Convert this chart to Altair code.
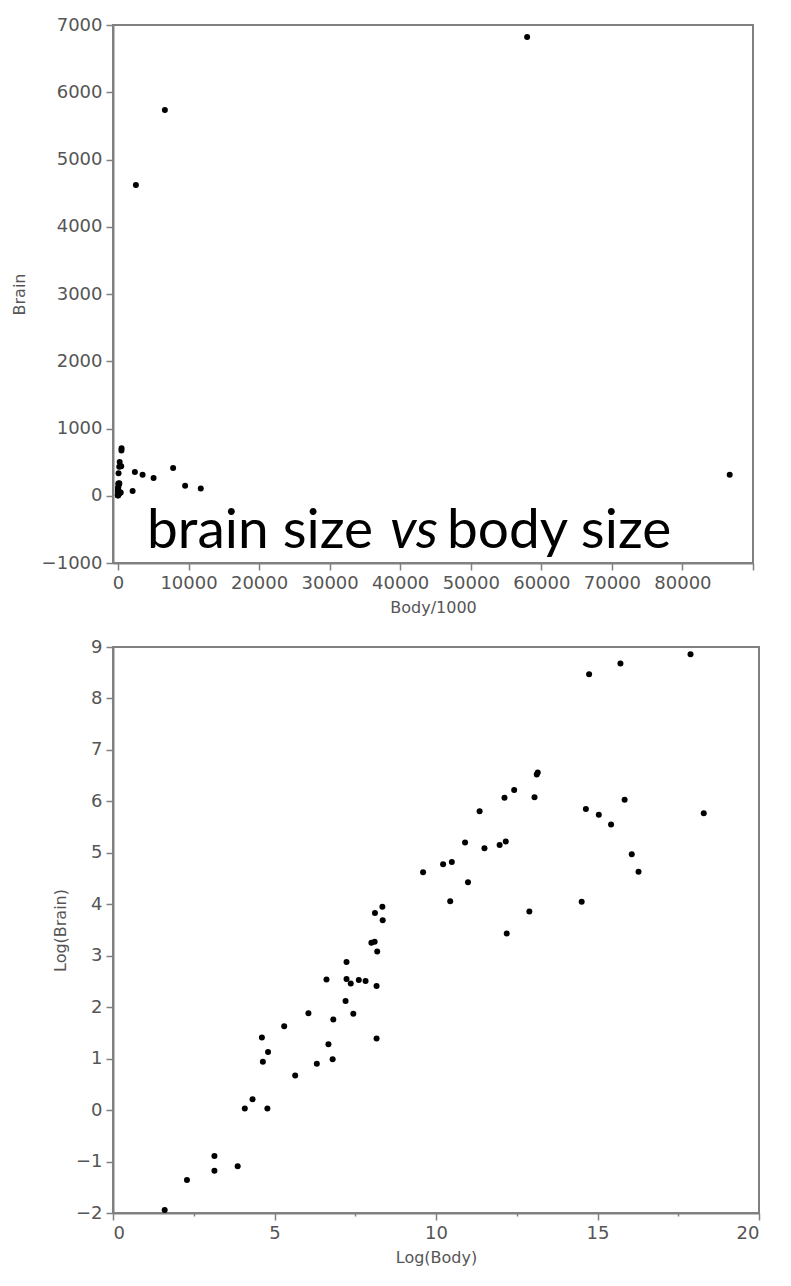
import altair as alt
import pandas as pd

# ---- top panel: Brain vs Body/1000 ----
body_kg = [57990, 6650, 2546, 86700, 7820, 9520, 11740, 5050, 3490, 2400, 2080,
           513, 498, 247, 465, 183, 85, 191, 158, 99, 54, 36, 27, 15, 59, 34, 396, 197,
           10, 6, 3, 1, 4, 2, 0.5, 8, 5]
brain_g = [6820, 5735, 4621, 312, 412, 149, 109, 263, 312, 352, 70,
           706, 673, 503, 437, 433, 334, 185, 172, 162, 181, 124, 119, 101, 84, 58, 47, 31,
           70, 45, 25, 8, 12, 6, 3, 17, 20]

# ---- bottom panel: Log(Brain) vs Log(Body) ----
log_body = [1.60, 2.29, 3.14, 3.14, 3.86, 4.08, 4.32, 4.78, 4.61, 4.80,
            4.64, 5.30, 5.64, 6.05, 6.31, 6.61, 6.67, 6.82, 6.80, 7.23,
            7.23, 7.36, 7.20, 7.44, 7.61, 7.82, 8.16, 8.16, 8.18, 8.34,
            8.11, 8.35, 8.00, 8.10, 9.60, 10.22, 10.49, 10.99, 10.44, 10.90,
            11.50, 11.35, 11.97, 12.16, 12.12, 12.42, 13.05, 12.89, 12.19, 13.12,
            13.15, 14.74, 15.71, 17.88, 14.64, 15.04, 15.42, 15.84, 18.29, 16.06,
            16.27, 14.51]
log_brain = [-1.94, -1.36, -0.89, -1.18, -1.09, 0.03, 0.21, 0.03, 1.41, 1.13,
             0.94, 1.63, 0.67, 1.88, 0.90, 2.54, 1.28, 1.76, 0.99, 2.88,
             2.55, 2.46, 2.12, 1.87, 2.53, 2.51, 2.41, 1.39, 3.08, 3.95,
             3.83, 3.69, 3.25, 3.27, 4.62, 4.78, 4.82, 4.43, 4.06, 5.20,
             5.09, 5.81, 5.15, 5.22, 6.07, 6.22, 6.08, 3.86, 3.43, 6.52,
             6.56, 8.47, 8.68, 8.86, 5.85, 5.74, 5.55, 6.03, 5.77, 4.97,
             4.63, 4.05]

top_x_ticks = [0, 10000, 20000, 30000, 40000, 50000, 60000, 70000, 80000, 90000]
top_y_ticks = [-1000, 0, 1000, 2000, 3000, 4000, 5000, 6000, 7000]
bot_x_ticks = [0, 2.5, 5, 7.5, 10, 12.5, 15, 17.5, 20]
bot_y_ticks = [-2, -1, 0, 1, 2, 3, 4, 5, 6, 7, 8, 9]

caption_parts = ["brain size", "vs", "body size"]

top_df = pd.DataFrame({"body": body_kg, "brain": brain_g})
bot_df = pd.DataFrame({"lbody": log_body, "lbrain": log_brain})

GRAY = "#808080"
LAB = "#555555"
axis_common = dict(domainColor=GRAY, domainWidth=2, tickColor=GRAY, tickWidth=1.5,
                   labelColor=LAB, labelFont="DejaVu Sans", labelFontSize=18,
                   titleFont="DejaVu Sans", titleFontSize=16, titleColor=LAB,
                   titleFontWeight="normal", grid=False)

top_points = alt.Chart(top_df).mark_circle(size=36, color="black", opacity=1).encode(
    x=alt.X("body:Q",
            scale=alt.Scale(domain=[-700, 90000], nice=False, zero=False),
            axis=alt.Axis(title="Body/1000", values=top_x_ticks, format="d",
                          labelExpr="datum.value >= 90000 ? '' : datum.label",
                          tickSize=7, labelPadding=4, titlePadding=7, **axis_common)),
    y=alt.Y("brain:Q",
            scale=alt.Scale(domain=[-1000, 7000], nice=False, zero=False),
            axis=alt.Axis(title="Brain", values=top_y_ticks, format="d",
                          tickSize=7, labelPadding=4, titlePadding=14, **axis_common)),
)

cap_font = "Lato"
cap_size = 55
cap1 = alt.Chart(pd.DataFrame({"t": [caption_parts[0]]})).mark_text(
    font=cap_font, fontSize=cap_size, align="left", baseline="alphabetic", color="black"
).encode(text="t:N", x=alt.value(34), y=alt.value(523))
cap2 = alt.Chart(pd.DataFrame({"t": [caption_parts[1]]})).mark_text(
    font=cap_font, fontSize=cap_size, fontStyle="italic", align="left",
    baseline="alphabetic", color="black"
).encode(text="t:N", x=alt.value(277), y=alt.value(523))
cap3 = alt.Chart(pd.DataFrame({"t": [caption_parts[2]]})).mark_text(
    font=cap_font, fontSize=cap_size, align="left", baseline="alphabetic", color="black"
).encode(text="t:N", x=alt.value(334), y=alt.value(523))

top = alt.layer(top_points, cap1, cap2, cap3).properties(width=640, height=538)

bottom = alt.Chart(bot_df).mark_circle(size=36, color="black", opacity=1).encode(
    x=alt.X("lbody:Q",
            scale=alt.Scale(domain=[0, 20], nice=False, zero=False),
            axis=alt.Axis(title="Log(Body)", values=bot_x_ticks,
                          labelExpr="datum.value % 5 === 0 ? datum.label : ''",
                          tickSize={"condition": {"test": "datum.value % 5 === 0", "value": 7}, "value": 3},
                          labelPadding=4, titlePadding=7, **axis_common)),
    y=alt.Y("lbrain:Q",
            scale=alt.Scale(domain=[-2, 9], nice=False, zero=False),
            axis=alt.Axis(title="Log(Brain)", values=bot_y_ticks, format="d",
                          tickSize=7, labelPadding=4, titlePadding=7, **axis_common)),
).properties(width=646, height=566)

chart = alt.vconcat(top, bottom, spacing=21).properties(
    background="white",
    padding={"left": 2, "top": 7, "right": 5, "bottom": 5},
).configure_view(stroke=GRAY, strokeWidth=2)

chart.save("out.html", embed_options={"renderer": "svg", "actions": False})
